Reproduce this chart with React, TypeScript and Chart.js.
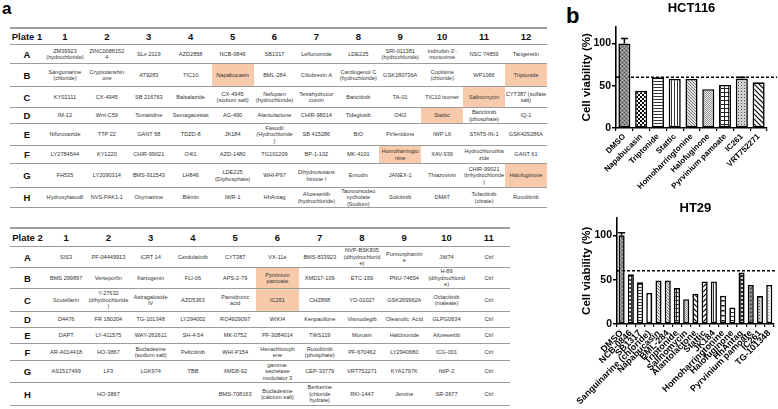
import React, { useEffect, useRef } from "react";
import { Chart, registerables } from "chart.js";
Chart.register(...registerables);

const FONT = '"Liberation Sans", Arial, Helvetica, sans-serif';

// ---------- Panel a: plate tables ----------
const plate1Columns = ["1", "2", "3", "4", "5", "6", "7", "8", "9", "10", "11", "12"];
const plate1RowLabels = ["A", "B", "C", "D", "E", "F", "G", "H"];
const plate1Rows = [
  ["ZM39923\n(hydrochloride)", "ZINC0088152\n4", "SLx-2119", "AZD2858", "NCB-0846", "SB1317", "Leflunomide", "LDE225", "SRI-011381\n(hydrochloride)", "Indirubin-3'-\nmonoxime", "NSC 74859", "Tangeretin"],
  ["Sanguinarine\n(chloride)", "Cryptotanshin\none", "AT9283", "TIC10", "Napabucasin", "BML-284", "Ciliobrevin A", "Cardiogenol C\n(hydrochloride)", "GSK180736A", "Coptisine\n(chloride)", "WP1066", "Triptonide"],
  ["KY02111", "CX-4945", "SB 216763", "Balsalazide", "CX-4945\n(sodium salt)", "Nefopam\n(hydrochloride)", "Tetrahydrocur\ncumin", "Baricitinib", "TA-01", "TIC10 isomer", "Salinomycin", "CYT387 (sulfate\nsalt)"],
  ["IM-12", "Wnt-C59", "Tomatidine", "Semagacestat", "AG-490", "Alantolactone", "CHIR-98014", "Tideglusib", "O4I2", "Stattic", "Baricitinib\n(phosphate)", "IQ-1"],
  ["Nifuroxazide", "TTP 22", "GANT 58", "TDZD-8", "JK184", "Fasudil\n(Hydrochloride\n)", "SB 415286", "BIO", "Pirfenidone", "IWP L6", "STAT5-IN-1", "GSK429286A"],
  ["LY2784544", "KY1220", "CHIR-99021", "O4I1", "AZD-1480", "TG101209", "BP-1-102", "MK-4101", "Homoharringto\nnine", "XAV-939", "Hydrochlorothia\nzide", "GANT 61"],
  ["FH535", "LY2090314", "BMS-911543", "LH846", "LDE225\n(Diphosphate)", "WHI-P97", "Dihydroisotans\nhinone I", "Emodin", "JANEX-1", "Thiazovivin", "CHIR-99021\n(trihydrochloride\n)", "Halofuginone"],
  ["Hydroxyfasudil", "NVS-PAK1-1", "Oxymatrine", "Bikinin", "IWR-1", "HhAntag", "Afuresertib\n(hydrochloride)", "Tauroursodeo\nxycholate\n(Sodium)", "Solcitinib", "DMAT", "Tofacitinib\n(citrate)", "Ruxolitinib"],
];
const plate1Highlights = ["B5", "B12", "C11", "D10", "F9", "G12"];

const plate2Columns = ["1", "2", "3", "4", "5", "6", "7", "8", "9", "10", "11"];
const plate2RowLabels = ["A", "B", "C", "D", "E", "F", "G", "H"];
const plate2Rows = [
  ["SIS3", "PF-04449913", "iCRT 14", "Cerdulatinib", "CYT387", "VX-11e", "BMS-833923", "NVP-BSK805\n(dihydrochlorid\ne)", "Purmorphamin\ne", "JW74", "Ctrl"],
  ["BMS 299897", "Verteporfin", "Kartogenin", "FLI-06", "APS-2-79", "Pyrvinium\npamoate", "XMD17-109", "ETC-159", "PNU-74654", "H-89\n(dihydrochlorid\ne)", "Ctrl"],
  ["Scutellarin", "Y-27632\n(dihydrochloride\n)", "Astragaloside\nIV", "AZD5363", "Pamidronic\nacid", "IC261", "CHZ868", "YO-01027", "GSK269962A", "Oclacitinib\n(maleate)", "Ctrl"],
  ["D4476", "FR 180204", "TG-101348", "LY294002", "RO4929097", "WIKI4", "Kenpaullone", "Vismodegib", "Oleanolic  Acid", "GLPG0634", "Ctrl"],
  ["DAPT", "LY-411575", "WAY-262611", "SH-4-54", "MK-0752", "PF-3084014", "TWS119", "Morusin", "Halcinonide", "Afuresertib", "Ctrl"],
  ["AR-A014418", "HO-3867", "Bucladesine\n(sodium salt)", "Peficitinib", "WHI-P154", "Hexachloroph\nene", "Ruxolitinib\n(phosphate)", "PF-670462", "LY2940680", "ICG-001", "Ctrl"],
  ["AS1517499", "LF3", "LGK974", "TBB", "XMD8-92", "gamma-\nsecretase\nmodulator 3", "CEP-33779", "VRT752271", "KYA1797K", "IWP-2", "Ctrl"],
  ["", "HO-3867", "", "", "BMS-708163", "Bucladesine\n(calcium salt)", "Berberine\n(chloride\nhydrate)", "RKI-1447", "Jervine", "SR-3677", "Ctrl"],
];
const plate2Highlights = ["B6", "C6"];

// ---------- Panel b: bar charts ----------
const hctCategories = ["DMSO", "Napabucasin", "Triptonide", "Stattic", "Homoharringtonine", "Halofuginone", "Pyrvinium pamoate", "IC261", "VRT752271"];
const hctValues = [100, 44, 60, 58, 58, 46, 51, 58.5, 54];
const hctErrors = [6, 0, 0, 0, 0, 0, 0, 1.5, 0];
const hctPatterns = ["darkCheck", "checker", "hlines", "vlines", "diagFine", "halftone", "grid", "dots", "diagBack"];

const ht29Categories = ["DMSO", "NCB-0846", "SB1317", "Sanguinarine (chloride)", "Napabucasin", "BML-284", "Triptonide", "Salinomycin", "Alantolactone", "Stattic", "JK184", "Homoharringtonine", "Halofuginone", "HhAntag", "Pyrvinium pamoate", "IC261", "TG-101348"];
const ht29Values = [100, 56, 47, 35, 49, 49, 40.5, 28, 34, 48, 48, 32, 18.5, 58, 44, 31.5, 44];
const ht29Errors = [3, 0, 0, 0, 0, 0, 0, 0, 0, 0, 0, 0, 0, 0, 0, 0, 0];
const ht29Patterns = ["darkCheck", "darkDotsLight", "hlines", "vlinesWide", "diagFine", "diagFine", "grid", "halftone", "diagBack", "diagFwd", "vlines", "hlinesWide", "gridWide", "darkDots", "wavy", "dots", "lightDots"];

const thresholdValue = 60;
const yTickValues = [0, 50, 100];
const yMax = 120;

function makePattern(kind: string): CanvasPattern | string {
  const c = document.createElement("canvas");
  const g = c.getContext("2d");
  if (!g) return "#fff";
  const tile = (w: number, h: number, bg: string) => {
    c.width = w;
    c.height = h;
    g.fillStyle = bg;
    g.fillRect(0, 0, w, h);
  };
  switch (kind) {
    case "darkCheck":
      tile(4, 4, "#8a8a8a");
      g.fillStyle = "#4a4a4a";
      g.fillRect(0, 0, 1, 1);
      g.fillRect(2, 2, 1, 1);
      g.fillStyle = "#b8b8b8";
      g.fillRect(2, 0, 1, 1);
      g.fillRect(0, 2, 1, 1);
      break;
    case "checker":
      tile(4, 4, "#fff");
      g.fillStyle = "#000";
      g.fillRect(0, 0, 2, 2);
      g.fillRect(2, 2, 2, 2);
      break;
    case "darkDotsLight":
      tile(4, 4, "#333");
      g.fillStyle = "#fff";
      g.fillRect(1, 1, 2, 2);
      break;
    case "hlines":
      tile(1, 3, "#fff");
      g.fillStyle = "#333";
      g.fillRect(0, 0, 1, 1);
      break;
    case "hlinesWide":
      tile(1, 5, "#fff");
      g.fillStyle = "#111";
      g.fillRect(0, 0, 1, 1.5);
      break;
    case "vlines":
      tile(3, 1, "#fff");
      g.fillStyle = "#333";
      g.fillRect(0, 0, 1, 1);
      break;
    case "vlinesWide":
      tile(5, 1, "#fff");
      g.fillStyle = "#888";
      g.fillRect(0, 0, 1, 1);
      break;
    case "diagFine":
      tile(3, 3, "#e2e2e2");
      g.fillStyle = "#7a7a7a";
      for (let i = 0; i < 3; i++) g.fillRect(i, i, 1, 1);
      break;
    case "halftone":
      tile(2, 2, "#e6e6e6");
      g.fillStyle = "#9a9a9a";
      g.fillRect(0, 0, 1, 1);
      g.fillRect(1, 1, 1, 1);
      break;
    case "grid":
      tile(4, 4, "#fff");
      g.fillStyle = "#222";
      g.fillRect(0, 0, 4, 1);
      g.fillRect(0, 0, 1, 4);
      break;
    case "gridWide":
      tile(5, 4, "#fff");
      g.fillStyle = "#222";
      g.fillRect(0, 0, 5, 1);
      g.fillRect(0, 0, 1, 4);
      break;
    case "dots":
      tile(3, 3, "#cfcfcf");
      g.fillStyle = "#555";
      g.fillRect(1, 1, 1, 1);
      break;
    case "lightDots":
      tile(3, 3, "#f2f2f2");
      g.fillStyle = "#999";
      g.fillRect(1, 1, 1, 1);
      break;
    case "diagBack":
      tile(5, 5, "#fff");
      g.strokeStyle = "#000";
      g.lineWidth = 1.2;
      g.beginPath();
      g.moveTo(-1, -1); g.lineTo(6, 6);
      g.moveTo(-1, 4); g.lineTo(1, 6);
      g.moveTo(4, -1); g.lineTo(6, 1);
      g.stroke();
      break;
    case "diagFwd":
      tile(5, 5, "#fff");
      g.strokeStyle = "#000";
      g.lineWidth = 1.2;
      g.beginPath();
      g.moveTo(-1, 6); g.lineTo(6, -1);
      g.moveTo(-1, 1); g.lineTo(1, -1);
      g.moveTo(4, 6); g.lineTo(6, 4);
      g.stroke();
      break;
    case "darkDots":
      tile(4, 4, "#2a2a2a");
      g.fillStyle = "#fff";
      g.beginPath();
      g.arc(2, 2, 1.1, 0, Math.PI * 2);
      g.fill();
      break;
    case "wavy":
      tile(6, 4, "#5a5a5a");
      g.strokeStyle = "#d8d8d8";
      g.lineWidth = 1;
      g.beginPath();
      g.moveTo(0, 2); g.lineTo(1.5, 1); g.lineTo(3, 2); g.lineTo(4.5, 3); g.lineTo(6, 2);
      g.stroke();
      break;
    default:
      return "#fff";
  }
  return g.createPattern(c, "repeat") || "#fff";
}

const thresholdPlugin = {
  id: "threshold",
  beforeDatasetsDraw(chart: any) {
    const { ctx, chartArea, scales } = chart;
    const y = scales.y.getPixelForValue(thresholdValue);
    ctx.save();
    ctx.strokeStyle = "#000";
    ctx.lineWidth = 1.5;
    ctx.setLineDash([3, 2]);
    ctx.beginPath();
    ctx.moveTo(chartArea.left, y);
    ctx.lineTo(chart.width - 1, y);
    ctx.stroke();
    ctx.restore();
  },
};

function errorPlugin(errors: number[]) {
  return {
    id: "errbars",
    afterDatasetsDraw(chart: any) {
      const { ctx, scales } = chart;
      const meta = chart.getDatasetMeta(0);
      const vals = chart.data.datasets[0].data as number[];
      ctx.save();
      ctx.strokeStyle = "#000";
      ctx.lineWidth = 1.5;
      meta.data.forEach((el: any, i: number) => {
        const e = errors[i];
        if (!e) return;
        const top = scales.y.getPixelForValue(vals[i] + e);
        const base = scales.y.getPixelForValue(vals[i]);
        ctx.beginPath();
        ctx.moveTo(el.x, base);
        ctx.lineTo(el.x, top);
        ctx.moveTo(el.x - 3.5, top);
        ctx.lineTo(el.x + 3.5, top);
        ctx.stroke();
      });
      ctx.restore();
    },
  };
}

type BarProps = {
  title: string;
  labels: string[];
  values: number[];
  errors: number[];
  patterns: string[];
  left: number;
  top: number;
  width: number;
  height: number;
  yWidth: number;
  xHeight: number;
  padRight: number;
  titlePad: { top: number; bottom: number };
  barPct: number;
  labelSize: number;
};

function BarChart(p: BarProps) {
  const ref = useRef<HTMLCanvasElement | null>(null);
  useEffect(() => {
    if (!ref.current) return;
    const chart = new Chart(ref.current, {
      type: "bar",
      data: {
        labels: p.labels,
        datasets: [
          {
            data: p.values,
            backgroundColor: p.patterns.map((k) => makePattern(k)) as any,
            borderColor: "#000",
            borderWidth: 1.6,
            borderSkipped: false,
            barPercentage: p.barPct,
            categoryPercentage: 1,
          },
        ],
      },
      options: {
        animation: false,
        responsive: false,
        devicePixelRatio: 1,
        layout: { padding: { left: 0, right: p.padRight, top: 0, bottom: 0 }, autoPadding: false } as any,
        plugins: {
          legend: { display: false },
          tooltip: { enabled: false },
          title: {
            display: true,
            text: p.title,
            fullSize: false,
            color: "#000",
            font: { family: FONT, size: 13, weight: "bold" },
            padding: p.titlePad,
          },
        },
        scales: {
          x: {
            offset: true,
            grid: { display: true, drawOnChartArea: false, drawTicks: true, tickLength: 3, color: "#000", lineWidth: 1.2 },
            border: { display: true, color: "#000", width: 1.6 },
            ticks: {
              autoSkip: false,
              minRotation: 45,
              maxRotation: 45,
              color: "#000",
              padding: 1,
              font: { family: FONT, size: p.labelSize, weight: "bold" },
            },
            afterFit: (s: any) => {
              s.height = p.xHeight;
            },
          },
          y: {
            min: 0,
            max: yMax,
            afterBuildTicks: (ax: any) => {
              ax.ticks = yTickValues.map((v) => ({ value: v }));
            },
            grid: { display: true, drawOnChartArea: false, drawTicks: true, tickLength: 4, color: "#000", lineWidth: 1.5 },
            border: { display: true, color: "#000", width: 1.6 },
            ticks: {
              color: "#000",
              padding: 1,
              font: { family: FONT, size: 10.5, weight: "bold" },
            },
            title: {
              display: true,
              text: "Cell viability (%)",
              color: "#000",
              font: { family: FONT, size: 11.5, weight: "bold" },
              padding: { top: 20, bottom: 0 },
            },
            afterFit: (s: any) => {
              s.width = p.yWidth;
            },
          },
        },
      } as any,
      plugins: [thresholdPlugin, errorPlugin(p.errors)],
    });
    return () => chart.destroy();
  }, []);
  return (
    <canvas
      ref={ref}
      width={p.width}
      height={p.height}
      style={{ position: "absolute", left: p.left, top: p.top, width: p.width, height: p.height }}
    />
  );
}

type PlateProps = {
  title: string;
  columns: string[];
  rowLabels: string[];
  rows: string[][];
  highlights: string[];
  left: number;
  top: number;
  width: number;
  firstColWidth: number;
  rowHeights: number[];
};

const LINE = "1px solid #9c9c9c";

function Plate(p: PlateProps) {
  const colW = (p.width - p.firstColWidth) / p.columns.length;
  const cellBase: React.CSSProperties = {
    display: "flex",
    alignItems: "center",
    justifyContent: "center",
    textAlign: "center",
    whiteSpace: "pre",
    boxSizing: "border-box",
    height: "100%",
  };
  return (
    <div style={{ position: "absolute", left: p.left, top: p.top, width: p.width, borderTop: "2px solid #9c9c9c", fontFamily: FONT }}>
      <div style={{ display: "flex", height: p.rowHeights[0], borderBottom: LINE, boxSizing: "border-box" }}>
        <div style={{ ...cellBase, width: p.firstColWidth, fontWeight: "bold", fontSize: 9.5, color: "#111" }}>{p.title}</div>
        {p.columns.map((c) => (
          <div key={c} style={{ ...cellBase, width: colW, fontWeight: "bold", fontSize: 9.5, color: "#111" }}>{c}</div>
        ))}
      </div>
      {p.rows.map((r, i) => (
        <div key={i} style={{ display: "flex", height: p.rowHeights[i + 1], borderBottom: LINE, boxSizing: "border-box" }}>
          <div style={{ ...cellBase, width: p.firstColWidth, fontWeight: "bold", fontSize: 9.5, color: "#111" }}>{p.rowLabels[i]}</div>
          {r.map((t, j) => {
            const hl = p.highlights.includes(p.rowLabels[i] + p.columns[j]);
            return (
              <div
                key={j}
                style={{
                  ...cellBase,
                  width: colW,
                  fontSize: 5.6,
                  lineHeight: 1.15,
                  color: "#333",
                  background: hl ? "#f7caab" : "transparent",
                }}
              >
                {t}
              </div>
            );
          })}
        </div>
      ))}
    </div>
  );
}

export default function App() {
  return (
    <div style={{ position: "fixed", left: 0, top: 0, width: 778, height: 409, background: "#fff", overflow: "hidden", fontFamily: FONT }}>
      <div style={{ position: "absolute", left: 2, top: 0, fontSize: 17, fontWeight: "bold", lineHeight: "18px" }}>a</div>
      <Plate
        title="Plate 1"
        columns={plate1Columns}
        rowLabels={plate1RowLabels}
        rows={plate1Rows}
        highlights={plate1Highlights}
        left={10}
        top={27}
        width={537}
        firstColWidth={34}
        rowHeights={[16, 19, 23, 21, 16, 22, 18, 24, 20]}
      />
      <Plate
        title="Plate 2"
        columns={plate2Columns}
        rowLabels={plate2RowLabels}
        rows={plate2Rows}
        highlights={plate2Highlights}
        left={10}
        top={227}
        width={500}
        firstColWidth={35}
        rowHeights={[18, 21, 21, 23, 16, 16, 17, 22, 23]}
      />
      <div style={{ position: "absolute", left: 566, top: 3, fontSize: 22, fontWeight: "bold", lineHeight: "25px" }}>b</div>
      <BarChart
        title="HCT116"
        labels={hctCategories}
        values={hctValues}
        errors={hctErrors}
        patterns={hctPatterns}
        left={560}
        top={0}
        width={218}
        height={200}
        yWidth={56}
        xHeight={72}
        padRight={11}
        titlePad={{ top: 1, bottom: 10 }}
        barPct={0.72}
        labelSize={8}
      />
      <BarChart
        title="HT29"
        labels={ht29Categories}
        values={ht29Values}
        errors={ht29Errors}
        patterns={ht29Patterns}
        left={560}
        top={200}
        width={218}
        height={209}
        yWidth={57}
        xHeight={85}
        padRight={3}
        titlePad={{ top: 1, bottom: 1 }}
        barPct={0.66}
        labelSize={9}
      />
    </div>
  );
}
